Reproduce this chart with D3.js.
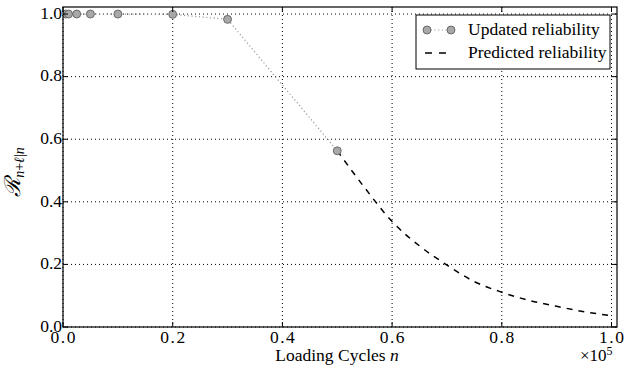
<!DOCTYPE html>
<html><head><meta charset="utf-8">
<script src="https://cdn.jsdelivr.net/npm/d3@7"></script>
<style>
body{margin:0;background:#fff}
#wrap{position:relative;width:634px;height:373px;font-family:'Liberation Serif';color:#000}
#wrap svg{position:absolute;left:0;top:0;display:block}
.t{position:absolute;white-space:nowrap;line-height:1;font-family:'Liberation Serif';font-size:17.5px}
</style>
</head><body>
<div id="wrap">
<svg id="c" width="634" height="373"></svg>
<div class="t" style="left:337px;top:346.8px;transform:translateX(-50%)">Loading Cycles <i>n</i></div>
<div class="t" style="left:580px;top:346.8px;font-size:17px">×10<span style="font-size:12px;position:relative;top:-6px">5</span></div>
<div class="t" id="ylab" style="left:13px;top:172px;transform:translate(-50%,-50%) rotate(-90deg)"><span style="font-family:'DejaVu Serif';font-style:italic;font-size:22px">ℛ</span><span style="font-size:14px;position:relative;top:4px"><i>n</i>+<i>ℓ</i>|<i>n</i></span></div>
</div>
<script>
// Data (x in units of 1e5 loading cycles)
const updatedX = [0.005, 0.01, 0.025, 0.05, 0.1, 0.2, 0.3, 0.5];
const updatedY = [1.0, 1.0, 1.0, 1.0, 1.0, 0.999, 0.983, 0.563];
const predictedX = [0.5, 0.55, 0.6, 0.65, 0.7, 0.75, 0.8, 0.85, 0.9, 0.95, 1.0];
const predictedY = [0.563, 0.445, 0.337, 0.259, 0.198, 0.145, 0.111, 0.085, 0.066, 0.049, 0.036];
const xTicks = [0.0, 0.2, 0.4, 0.6, 0.8, 1.0];
const yTicks = [0.0, 0.2, 0.4, 0.6, 0.8, 1.0];
const legendLabels = ["Updated reliability", "Predicted reliability"];

const svg = d3.select("#c");
const wrap = d3.select("#wrap");
const L = 63, R = 617, T = 7, B = 327;
const x = d3.scaleLinear().domain([0, 1.01]).range([L, R]);
const y = d3.scaleLinear().domain([0, 1.0225]).range([B, T]);

// grid
const g = svg.append("g");
g.selectAll("line.gx").data(xTicks).join("line")
  .attr("x1", d => x(d)).attr("x2", d => x(d)).attr("y1", T).attr("y2", B)
  .attr("stroke", "#000").attr("stroke-width", 1).attr("stroke-dasharray", "1,3");
g.selectAll("line.gy").data(yTicks).join("line")
  .attr("y1", d => y(d)).attr("y2", d => y(d)).attr("x1", L).attr("x2", R)
  .attr("stroke", "#000").attr("stroke-width", 1).attr("stroke-dasharray", "1,3");

// clip
svg.append("clipPath").attr("id", "clp").append("rect")
  .attr("x", L).attr("y", T).attr("width", R - L).attr("height", B - T);
const plot = svg.append("g").attr("clip-path", "url(#clp)");

const upd = updatedX.map((v, i) => [v, updatedY[i]]);
const pred = predictedX.map((v, i) => [v, predictedY[i]]);

plot.append("path").datum(upd)
  .attr("d", d3.line().x(d => x(d[0])).y(d => y(d[1])))
  .attr("fill", "none").attr("stroke", "#999").attr("stroke-width", 1.2).attr("stroke-dasharray", "1.2,2.5");
plot.append("path").datum(pred)
  .attr("d", d3.line().x(d => x(d[0])).y(d => y(d[1])).curve(d3.curveMonotoneX))
  .attr("fill", "none").attr("stroke", "#000").attr("stroke-width", 1.5).attr("stroke-dasharray", "6,6");
plot.selectAll("circle").data(upd).join("circle")
  .attr("cx", d => x(d[0])).attr("cy", d => y(d[1])).attr("r", 4)
  .attr("fill", "#a8a8a8").attr("stroke", "#555").attr("stroke-width", 0.8);

// frame
svg.append("rect").attr("x", L).attr("y", T).attr("width", R - L).attr("height", B - T)
  .attr("fill", "none").attr("stroke", "#000").attr("stroke-width", 1.2);

// ticks (inward, all sides)
const tk = svg.append("g").attr("stroke", "#000").attr("stroke-width", 1);
xTicks.forEach(d => {
  tk.append("line").attr("x1", x(d)).attr("x2", x(d)).attr("y1", B).attr("y2", B - 5);
  tk.append("line").attr("x1", x(d)).attr("x2", x(d)).attr("y1", T).attr("y2", T + 5);
});
yTicks.forEach(d => {
  tk.append("line").attr("y1", y(d)).attr("y2", y(d)).attr("x1", L).attr("x2", L + 5);
  tk.append("line").attr("y1", y(d)).attr("y2", y(d)).attr("x1", R).attr("x2", R - 5);
});

// tick labels (HTML text positioned with the scales)
wrap.selectAll("div.xt").data(xTicks).join("div").attr("class", "t xt")
  .style("left", d => (x(d) + 0.75) + "px").style("top", "328.8px")
  .style("transform", "translateX(-50%)").style("letter-spacing", "1.5px")
  .text(d => d.toFixed(1));
wrap.selectAll("div.yt").data(yTicks).join("div").attr("class", "t yt")
  .style("right", (634 - (L - 1)) + "px").style("top", d => (y(d) - 9.2) + "px")
  .style("text-align", "right")
  .text(d => d.toFixed(1));

// legend
const lg = svg.append("g");
lg.append("rect").attr("x", 416).attr("y", 15).attr("width", 194).attr("height", 54)
  .attr("fill", "#fff").attr("stroke", "#000").attr("stroke-width", 1);
lg.append("line").attr("x1", 427).attr("x2", 451).attr("y1", 30).attr("y2", 30)
  .attr("stroke", "#999").attr("stroke-width", 1.2).attr("stroke-dasharray", "1.2,2.5");
[427, 451].forEach(cx => lg.append("circle").attr("cx", cx).attr("cy", 30).attr("r", 4)
  .attr("fill", "#a8a8a8").attr("stroke", "#555").attr("stroke-width", 0.8));
lg.append("line").attr("x1", 425).attr("x2", 453).attr("y1", 53).attr("y2", 53)
  .attr("stroke", "#000").attr("stroke-width", 1.5).attr("stroke-dasharray", "7,7");
wrap.selectAll("div.lt").data(legendLabels).join("div").attr("class", "t lt")
  .style("left", "468px").style("top", (d, i) => (21.3 + i * 23) + "px")
  .text(d => d);
</script></body></html>
